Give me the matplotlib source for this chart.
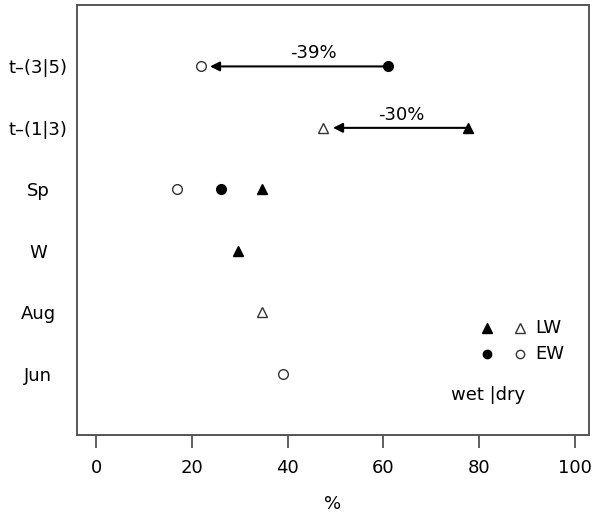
import matplotlib
matplotlib.use('Agg')
import matplotlib.pyplot as plt

# categories, bottom to top
labels = ["Jun", "Aug", "W", "Sp", "t\u2013(1|3)", "t\u2013(3|5)"]
ypos = [1, 2, 3, 4, 5, 6]

# LW wet (filled triangle) / dry (open triangle)
lw_wet_y = [3, 4, 5]
lw_wet_x = [29.6, 34.7, 77.7]
lw_dry_y = [2, 5]
lw_dry_x = [34.7, 47.4]

# EW wet (filled circle) / dry (open circle)
ew_wet_y = [4, 6]
ew_wet_x = [26, 61]
ew_dry_y = [1, 4, 6]
ew_dry_x = [39, 17, 22]

# change arrows: (y, from, to, label, label x)
arrows = [(6, 61, 23.8, "-39%", 45.5), (5, 77.7, 49.5, "-30%", 63.7)]

fs = 13
fig = plt.figure(figsize=(5.95, 5.23), dpi=100)
ax = fig.add_axes([77/595, 1-435/523, 512/595, 430/523])

ms = 7
ax.plot(lw_wet_x, lw_wet_y, '^', color='black', ms=ms, ls='none')
ax.plot(lw_dry_x, lw_dry_y, '^', mfc='white', mec='#333333', mew=1.0, ms=ms, ls='none')
ax.plot(ew_wet_x, ew_wet_y, 'o', color='black', ms=ms, ls='none')
ax.plot(ew_dry_x, ew_dry_y, 'o', mfc='white', mec='#333333', mew=1.0, ms=ms, ls='none')

for y, x0, x1, txt, tx in arrows:
    ax.annotate("", xy=(x1, y), xytext=(x0, y),
                arrowprops=dict(arrowstyle='-|>', color='black', lw=1.5,
                                mutation_scale=14, shrinkA=0, shrinkB=0))
    ax.text(tx, y + 0.07, txt, ha='center', va='bottom', fontsize=fs)

# legend drawn by hand
ax.plot([81.6], [1.75], '^', color='black', ms=ms)
ax.plot([88.5], [1.75], '^', mfc='white', mec='#333333', mew=1.0, ms=ms)
ax.text(91.8, 1.75, "LW", va='center', fontsize=fs)
ax.plot([81.6], [1.32], 'o', color='black', ms=6)
ax.plot([88.5], [1.32], 'o', mfc='white', mec='#333333', mew=1.0, ms=6)
ax.text(91.8, 1.32, "EW", va='center', fontsize=fs)
ax.text(74.2, 0.65, "wet |dry", va='center', fontsize=fs)

ax.set_xlim(-4, 103)
ax.set_ylim(0, 7)
ax.set_xticks([0, 20, 40, 60, 80, 100])
ax.set_yticks(ypos)
ax.set_yticklabels(labels)
ax.tick_params(axis='x', length=9, width=1.2, color='#444444', labelsize=fs, pad=8)
ax.tick_params(axis='y', length=0, labelsize=fs, pad=28)
for t in ax.get_yticklabels():
    t.set_horizontalalignment('center')
ax.set_xlabel("%", fontsize=fs, labelpad=13)
for s in ax.spines.values():
    s.set_color('#555555')
    s.set_linewidth(1.4)

fig.savefig("out.png", dpi=100)
